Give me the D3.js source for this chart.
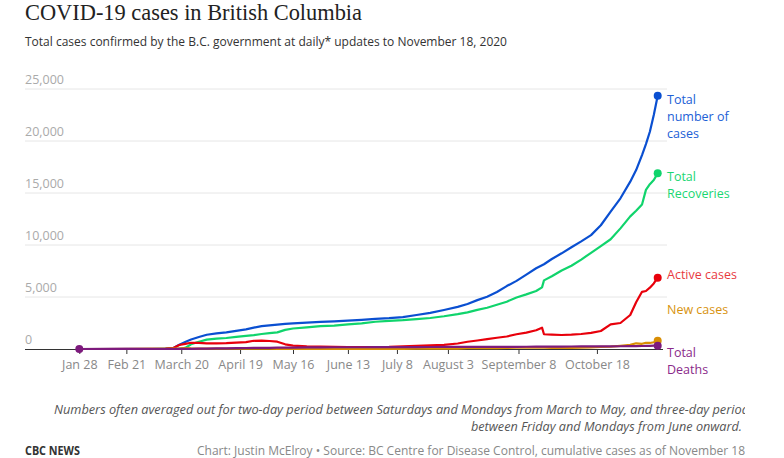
<!DOCTYPE html>
<html><head><meta charset="utf-8">
<script src="https://cdn.jsdelivr.net/npm/d3@7"></script>
<style>
html,body{margin:0;padding:0;background:#fff;}
svg{display:block;}
</style></head>
<body>
<svg id="chart" width="784" height="458"></svg>
<script>
// ---- data ----
const dates = ["2020-01-28","2020-02-21","2020-03-05","2020-03-12","2020-03-16","2020-03-19","2020-03-22","2020-03-25","2020-03-29","2020-04-02","2020-04-07","2020-04-12","2020-04-17","2020-04-22","2020-04-26","2020-04-30","2020-05-04","2020-05-08","2020-05-12","2020-05-16","2020-05-23","2020-05-30","2020-06-06","2020-06-13","2020-06-20","2020-06-27","2020-07-04","2020-07-11","2020-07-18","2020-07-25","2020-08-01","2020-08-08","2020-08-13","2020-08-18","2020-08-23","2020-08-28","2020-09-02","2020-09-07","2020-09-12","2020-09-17","2020-09-20","2020-09-21","2020-09-25","2020-09-30","2020-10-05","2020-10-10","2020-10-15","2020-10-20","2020-10-25","2020-10-30","2020-11-04","2020-11-07","2020-11-10","2020-11-12","2020-11-14","2020-11-16","2020-11-18"];
const totalCases = [1,6,21,46,103,420,680,920,1150,1370,1500,1600,1750,1890,2050,2200,2280,2350,2420,2470,2530,2600,2650,2720,2800,2900,2960,3070,3270,3480,3750,4050,4330,4700,5030,5480,6050,6550,7150,7760,8050,8150,8650,9200,9780,10350,10950,11900,13200,14490,16090,17200,18650,19700,20890,22500,24350];
const recoveries = [0,0,0,5,5,10,100,450,700,900,990,1060,1170,1260,1330,1440,1530,1600,1840,1970,2085,2200,2250,2375,2470,2620,2700,2770,2880,2980,3150,3350,3520,3760,3970,4250,4550,4950,5250,5580,5930,6600,7000,7550,8000,8600,9250,9900,10550,11600,12750,13300,13900,15300,15850,16250,16890];
const activeCases = [0,4,15,40,95,380,500,600,580,550,545,560,610,660,790,800,770,700,450,330,260,220,200,190,180,180,200,250,300,360,400,530,700,820,950,1080,1200,1420,1580,1800,2050,1420,1380,1346,1380,1440,1550,1730,2370,2500,3270,4500,5500,5577,5900,6300,6860];
const newCases = [1,1,3,7,30,45,90,60,45,50,30,30,30,30,45,40,25,15,10,10,10,10,10,12,15,15,15,20,30,30,45,45,80,70,90,90,100,130,130,150,120,130,115,120,100,120,150,200,220,300,400,550,500,600,580,650,800];
const deaths = [0,0,0,0,1,7,10,17,31,38,58,69,81,94,100,109,114,130,135,141,155,164,166,168,168,173,183,189,189,192,195,195,196,198,203,207,210,213,215,220,222,227,230,234,240,247,251,256,260,263,271,281,290,300,306,316,321];

const yTicks = [0,5000,10000,15000,20000,25000];
const xTickDates = ["2020-01-28","2020-02-21","2020-03-20","2020-04-19","2020-05-16","2020-06-13","2020-07-08","2020-08-03","2020-09-08","2020-10-18"];
const xTickLabels = ["Jan 28","Feb 21","March 20","April 19","May 16","June 13","July 8","August 3","September 8","October 18"];

const seriesNames = ["Total number of cases","Total Recoveries","Active cases","New cases","Total Deaths"];
const seriesValues = [totalCases, recoveries, activeCases, newCases, deaths];
const seriesColors = ["#0a4fd1","#10d46c","#e8000b","#d98e04","#7d1a7d"];
const labelColors = ["#2160d6","#1bd672","#e83a3f","#d8930f","#8a2a8a"];
const labelLines = [["Total","number of","cases"],["Total","Recoveries"],["Active cases"],["New cases"],["Total","Deaths"]];

// ---- chart ----
const parse = d3.timeParse("%Y-%m-%d");
const svg = d3.select("#chart");
const font = "'Open Sans', sans-serif";

const x = d3.scaleTime().domain([parse("2020-01-28"), parse("2020-11-18")]).range([79.3, 657.7]);
const y = d3.scaleLinear().domain([0, 25000]).range([349, 89]);

// title
svg.append("text").attr("x", 25).attr("y", 20)
  .attr("font-family", "'Liberation Serif', serif").attr("font-size", 23)
  .attr("fill", "#222").attr("textLength", 337).attr("lengthAdjust", "spacingAndGlyphs")
  .text("COVID-19 cases in British Columbia");
svg.append("text").attr("x", 25).attr("y", 46)
  .attr("font-family", font).attr("font-size", 12.5).attr("fill", "#333")
  .attr("textLength", 482).attr("lengthAdjust", "spacingAndGlyphs")
  .text("Total cases confirmed by the B.C. government at daily* updates to November 18, 2020");

// gridlines
const grid = svg.append("g");
yTicks.filter(d => d > 0).forEach(t => {
  grid.append("line").attr("x1", 25).attr("x2", 667).attr("y1", y(t)).attr("y2", y(t))
    .attr("stroke", "#e6e6e6").attr("stroke-width", 1);
});
yTicks.forEach(t => {
  grid.append("text").attr("x", 25).attr("y", y(t) - 5)
    .attr("font-family", font).attr("font-size", 12.5).attr("fill", "#aaa")
    .text(d3.format(",")(t));
});

// x axis
const xAxis = d3.axisBottom(x)
  .tickValues(xTickDates.map(parse))
  .tickFormat((d, i) => xTickLabels[i])
  .tickSizeInner(5).tickSizeOuter(0).tickPadding(6);
const gx = svg.append("g").attr("transform", "translate(0,349)").call(xAxis);
gx.select(".domain").attr("d", "M25,0.5H663").attr("stroke", "#333");
gx.selectAll(".tick line").attr("stroke", "#333");
gx.selectAll(".tick text").attr("font-family", font).attr("font-size", 12.5).attr("fill", "#888");

// lines
const parsedDates = dates.map(parse);
const line = d3.line().x((d, i) => x(parsedDates[i])).y(d => y(d));
seriesValues.forEach((vals, k) => {
  svg.append("path").datum(vals).attr("d", line)
    .attr("fill", "none").attr("stroke", seriesColors[k]).attr("stroke-width", 2.2)
    .attr("stroke-linejoin", "round").attr("stroke-linecap", "round");
});
// end dots
seriesValues.forEach((vals, k) => {
  svg.append("circle").attr("cx", x(parsedDates[parsedDates.length - 1])).attr("cy", y(vals[vals.length - 1]))
    .attr("r", 4).attr("fill", seriesColors[k]);
});
// start dot (deaths)
svg.append("circle").attr("cx", x(parsedDates[0])).attr("cy", y(deaths[0]))
  .attr("r", 4).attr("fill", seriesColors[4]);

// labels
const labelY = [100, 177, 275, 310, 353];
labelLines.forEach((lines, k) => {
  lines.forEach((s, j) => {
    svg.append("text").attr("x", 667).attr("y", labelY[k] + j * 17).attr("dy", "0.35em")
      .attr("font-family", font).attr("font-size", 12.5).attr("fill", labelColors[k]).text(s);
  });
});

// notes
const defs = svg.append("defs");
defs.append("clipPath").attr("id", "noteclip").append("rect").attr("x", 0).attr("y", 390).attr("width", 745).attr("height", 30);
svg.append("text").attr("x", 54).attr("y", 414).attr("clip-path", "url(#noteclip)")
  .attr("font-family", font).attr("font-style", "italic").attr("font-size", 12.5).attr("fill", "#555")
  .attr("textLength", 695).attr("lengthAdjust", "spacingAndGlyphs")
  .text("Numbers often averaged out for two-day period between Saturdays and Mondays from March to May, and three-day period");
svg.append("text").attr("x", 742).attr("y", 431).attr("text-anchor", "end")
  .attr("font-family", font).attr("font-style", "italic").attr("font-size", 12.5).attr("fill", "#555")
  .attr("textLength", 271).attr("lengthAdjust", "spacingAndGlyphs")
  .text("between Friday and Mondays from June onward.");

// footer
svg.append("text").attr("x", 25).attr("y", 455)
  .attr("font-family", font).attr("font-weight", "bold").attr("font-size", 12).attr("fill", "#333")
  .attr("textLength", 55).attr("lengthAdjust", "spacingAndGlyphs")
  .text("CBC NEWS");
svg.append("text").attr("x", 745).attr("y", 455).attr("text-anchor", "end")
  .attr("font-family", font).attr("font-size", 12).attr("fill", "#888")
  .attr("textLength", 548).attr("lengthAdjust", "spacingAndGlyphs")
  .text("Chart: Justin McElroy \u2022 Source: BC Centre for Disease Control, cumulative cases as of November 18");
</script>
</body></html>
